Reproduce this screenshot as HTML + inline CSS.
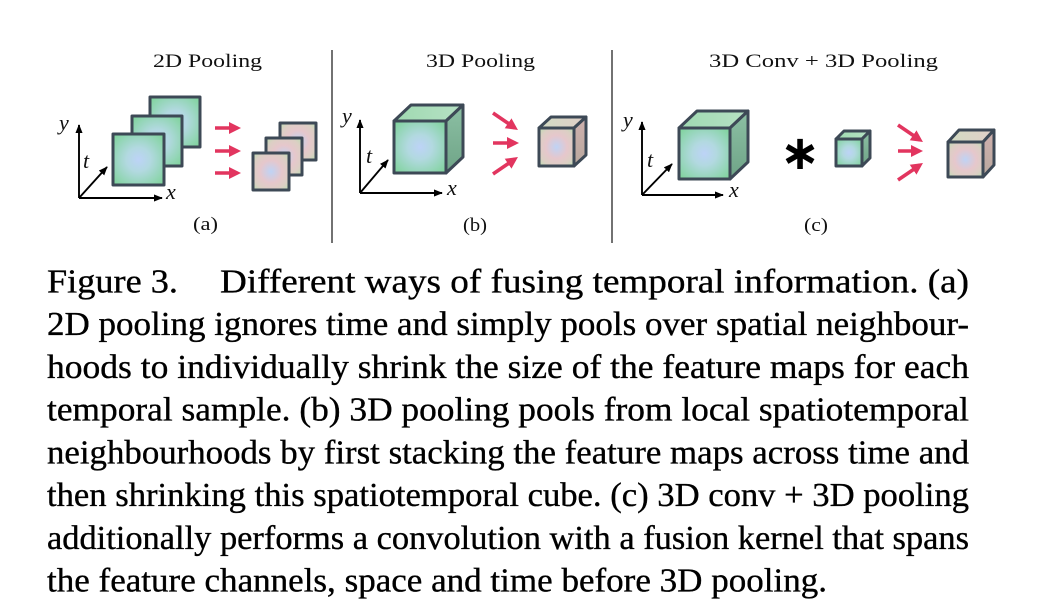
<!DOCTYPE html>
<html>
<head>
<meta charset="utf-8">
<style>
  html, body { margin:0; padding:0; background:#ffffff; }
  body { width:1048px; height:612px; position:relative; overflow:hidden; }
  svg { position:absolute; left:0; top:0; }
</style>
</head>
<body>
<svg width="1048" height="612" viewBox="0 0 1048 612" xmlns="http://www.w3.org/2000/svg">
  <defs>
    <radialGradient id="gf" cx="0.5" cy="0.5" r="0.68">
      <stop offset="0" stop-color="#bdd3f7"/>
      <stop offset="0.35" stop-color="#b2d9e0"/>
      <stop offset="1" stop-color="#7ed39a"/>
    </radialGradient>
    <radialGradient id="pf" cx="0.5" cy="0.5" r="0.68">
      <stop offset="0" stop-color="#bfd3f5"/>
      <stop offset="0.45" stop-color="#e6c7cc"/>
      <stop offset="0.75" stop-color="#dccfc4"/>
      <stop offset="1" stop-color="#bfdcb5"/>
    </radialGradient>
    <linearGradient id="gs" x1="0" y1="0" x2="0" y2="1">
      <stop offset="0" stop-color="#8cc0a4"/>
      <stop offset="1" stop-color="#6fa487"/>
    </linearGradient>
    <linearGradient id="gt" x1="0" y1="0" x2="1" y2="0">
      <stop offset="0" stop-color="#9fd9b1"/>
      <stop offset="1" stop-color="#b6e1c4"/>
    </linearGradient>
    <linearGradient id="ps" x1="0" y1="0" x2="0" y2="1">
      <stop offset="0" stop-color="#cfb1ae"/>
      <stop offset="1" stop-color="#b9a89e"/>
    </linearGradient>
    <linearGradient id="pt" x1="0" y1="0" x2="1" y2="0">
      <stop offset="0" stop-color="#d2dbc3"/>
      <stop offset="1" stop-color="#e0cfc8"/>
    </linearGradient>
    <marker id="ax" viewBox="0 0 10 8" refX="9" refY="4" markerWidth="9" markerHeight="7.2" markerUnits="userSpaceOnUse" orient="auto">
      <path d="M0,0 L10,4 L0,8 z" fill="#000"/>
    </marker>
    <marker id="ra" viewBox="0 0 10 10" refX="7" refY="5" markerWidth="12" markerHeight="12" markerUnits="userSpaceOnUse" orient="auto">
      <path d="M0,0 L10,5 L0,10 z" fill="#e2355f"/>
    </marker>
  </defs>

  <!-- Titles -->
  <g font-family="Liberation Serif, serif" font-size="19" fill="#111">
    <text x="153" y="67" textLength="109" lengthAdjust="spacingAndGlyphs">2D Pooling</text>
    <text x="426" y="67" textLength="109" lengthAdjust="spacingAndGlyphs">3D Pooling</text>
    <text x="709" y="67" textLength="229" lengthAdjust="spacingAndGlyphs">3D Conv + 3D Pooling</text>
    <text x="193" y="230" textLength="25" lengthAdjust="spacingAndGlyphs">(a)</text>
    <text x="463" y="231" textLength="24" lengthAdjust="spacingAndGlyphs">(b)</text>
    <text x="804" y="231" textLength="24" lengthAdjust="spacingAndGlyphs">(c)</text>
  </g>

  <!-- Separators -->
  <line x1="332" y1="50" x2="332" y2="243" stroke="#444" stroke-width="1.5"/>
  <line x1="612" y1="50" x2="612" y2="243" stroke="#444" stroke-width="1.5"/>

  <!-- Axes -->
  <g stroke="#000" stroke-width="1.9" fill="none">
    <line x1="79" y1="198" x2="79" y2="125" marker-end="url(#ax)"/>
    <line x1="79" y1="198" x2="162" y2="198" marker-end="url(#ax)"/>
    <line x1="79" y1="198" x2="107" y2="167" marker-end="url(#ax)"/>

    <line x1="360" y1="193" x2="360" y2="120" marker-end="url(#ax)"/>
    <line x1="360" y1="193" x2="442" y2="193" marker-end="url(#ax)"/>
    <line x1="360" y1="193" x2="388" y2="160" marker-end="url(#ax)"/>

    <line x1="642" y1="195" x2="642" y2="122" marker-end="url(#ax)"/>
    <line x1="642" y1="195" x2="723" y2="195" marker-end="url(#ax)"/>
    <line x1="642" y1="195" x2="672" y2="164" marker-end="url(#ax)"/>
  </g>
  <g font-family="Liberation Serif, serif" font-style="italic" font-size="22" fill="#111">
    <text x="59" y="130">y</text>
    <text x="83" y="168">t</text>
    <text x="166" y="199">x</text>

    <text x="342" y="123">y</text>
    <text x="366" y="163">t</text>
    <text x="447" y="195">x</text>

    <text x="623" y="127">y</text>
    <text x="647" y="167">t</text>
    <text x="729" y="197">x</text>
  </g>

  <!-- (a) stacked squares -->
  <g stroke="#3d4956" stroke-width="3" stroke-linejoin="round">
    <rect x="150" y="97" width="50" height="50" fill="url(#gf)"/>
    <rect x="132" y="116" width="50" height="50" fill="url(#gf)"/>
    <rect x="113" y="134" width="51" height="51" fill="url(#gf)"/>

    <rect x="280" y="123" width="36" height="37" fill="url(#pf)"/>
    <rect x="266" y="138" width="36" height="37" fill="url(#pf)"/>
    <rect x="253" y="153" width="36" height="37" fill="url(#pf)"/>
  </g>

  <!-- (a) arrows -->
  <g stroke="#e2355f" stroke-width="3.6" fill="none">
    <line x1="215" y1="128" x2="237.4" y2="128" marker-end="url(#ra)"/>
    <line x1="215" y1="151" x2="237.4" y2="151" marker-end="url(#ra)"/>
    <line x1="215" y1="173" x2="237.4" y2="173" marker-end="url(#ra)"/>
  </g>

  <!-- (b) cubes -->
  <g stroke="#3d4956" stroke-width="3" stroke-linejoin="round">
    <polygon points="394,121 411,105 463,105 446,121" fill="url(#gt)"/>
    <polygon points="446,121 463,105 463,157 446,173" fill="url(#gs)"/>
    <rect x="394" y="121" width="52" height="52" fill="url(#gf)"/>

    <polygon points="539,128 551,117 586,117 574,128" fill="url(#pt)"/>
    <polygon points="574,128 586,117 586,155 574,166" fill="url(#ps)"/>
    <rect x="539" y="128" width="35" height="38" fill="url(#pf)"/>
  </g>
  <g stroke="#e2355f" stroke-width="3.6" fill="none">
    <line x1="493" y1="113" x2="515" y2="128" marker-end="url(#ra)"/>
    <line x1="493" y1="143" x2="515.4" y2="143" marker-end="url(#ra)"/>
    <line x1="493" y1="174" x2="515" y2="159" marker-end="url(#ra)"/>
  </g>

  <!-- (c) cubes -->
  <g stroke="#3d4956" stroke-width="3" stroke-linejoin="round">
    <polygon points="679,128 697,111 748,111 730,128" fill="url(#gt)"/>
    <polygon points="730,128 748,111 748,162 730,179" fill="url(#gs)"/>
    <rect x="679" y="128" width="51" height="51" fill="url(#gf)"/>

    <polygon points="836,139 844,131 870,131 862,139" fill="url(#gt)"/>
    <polygon points="862,139 870,131 870,158 862,166" fill="url(#gs)"/>
    <rect x="836" y="139" width="26" height="27" fill="url(#gf)"/>

    <polygon points="948,142 959,130 994,130 983,142" fill="url(#pt)"/>
    <polygon points="983,142 994,130 994,165 983,177" fill="url(#ps)"/>
    <rect x="948" y="142" width="35" height="35" fill="url(#pf)"/>
  </g>
  <g stroke="#e2355f" stroke-width="3.6" fill="none">
    <line x1="898" y1="125" x2="920" y2="140" marker-end="url(#ra)"/>
    <line x1="898" y1="151" x2="919.4" y2="151" marker-end="url(#ra)"/>
    <line x1="898" y1="180" x2="920" y2="165" marker-end="url(#ra)"/>
  </g>

  <!-- asterisk (convolution) -->
  <text x="800" y="169" text-anchor="middle" font-family="DejaVu Sans, sans-serif" font-weight="bold" font-size="48" fill="#000">∗</text>

  <!-- Caption -->
  <g font-family="Liberation Serif, serif" font-size="33.5" fill="#000" stroke="#000" stroke-width="0.35">
    <text x="47" y="292.3" textLength="131" lengthAdjust="spacingAndGlyphs">Figure 3.</text>
    <text x="220" y="292.3" textLength="749" lengthAdjust="spacingAndGlyphs">Different ways of fusing temporal information.  (a)</text>
    <text x="47" y="335.1" textLength="922" lengthAdjust="spacingAndGlyphs">2D pooling ignores time and simply pools over spatial neighbour-</text>
    <text x="47" y="377.8" textLength="922" lengthAdjust="spacingAndGlyphs">hoods to individually shrink the size of the feature maps for each</text>
    <text x="47" y="420.6" textLength="922" lengthAdjust="spacingAndGlyphs">temporal sample. (b) 3D pooling pools from local spatiotemporal</text>
    <text x="47" y="463.4" textLength="922" lengthAdjust="spacingAndGlyphs">neighbourhoods by first stacking the feature maps across time and</text>
    <text x="47" y="506.2" textLength="922" lengthAdjust="spacingAndGlyphs">then shrinking this spatiotemporal cube. (c) 3D conv + 3D pooling</text>
    <text x="47" y="548.9" textLength="922" lengthAdjust="spacingAndGlyphs">additionally performs a convolution with a fusion kernel that spans</text>
    <text x="47" y="591.7" textLength="780" lengthAdjust="spacingAndGlyphs">the feature channels, space and time before 3D pooling.</text>
  </g>
</svg>
</body>
</html>
